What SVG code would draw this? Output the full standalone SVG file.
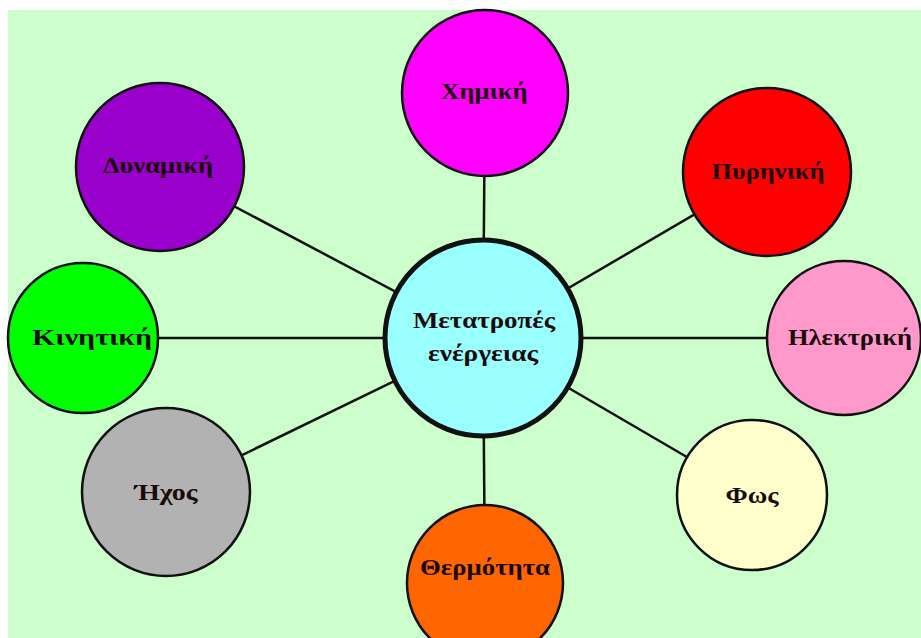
<svg xmlns="http://www.w3.org/2000/svg" width="921" height="638" viewBox="0 0 921 638">
<style>
.node circle{stroke:#111;stroke-width:2.5}
.node text{font-family:"Liberation Serif","DejaVu Serif",serif;font-weight:bold;font-size:24px;fill:#1a0a0a;text-anchor:middle;dominant-baseline:central}
.conn line{stroke:#111;stroke-width:2.5}
</style>
<rect x="0" y="0" width="921" height="638" fill="#ffffff"/>
<rect x="8" y="10" width="913" height="628" fill="#ccffcc"/>
<g class="conn">
<line x1="483" y1="338" x2="485" y2="93"/>
<line x1="483" y1="338" x2="160" y2="167"/>
<line x1="483" y1="338" x2="767" y2="172"/>
<line x1="483" y1="338" x2="83" y2="338"/>
<line x1="483" y1="338" x2="844" y2="338"/>
<line x1="483" y1="338" x2="166" y2="492"/>
<line x1="483" y1="338" x2="752" y2="495"/>
<line x1="483" y1="338" x2="485" y2="583"/>
</g>
<g id="chimiki" class="node"><circle cx="485" cy="93" r="83" fill="#ff00ff"/><text x="484" y="91" textLength="87" lengthAdjust="spacingAndGlyphs">Χημική</text></g>
<g id="dynamiki" class="node"><circle cx="160" cy="167" r="84" fill="#9900cc"/><text x="158" y="165" textLength="110" lengthAdjust="spacingAndGlyphs">Δυναμική</text></g>
<g id="pyriniki" class="node"><circle cx="767" cy="172" r="84" fill="#ff0000"/><text x="768" y="171" textLength="113" lengthAdjust="spacingAndGlyphs">Πυρηνική</text></g>
<g id="kinitiki" class="node"><circle cx="83" cy="338" r="75" fill="#00ff00"/><text x="92" y="337" textLength="120" lengthAdjust="spacingAndGlyphs">Κινητική</text></g>
<g id="ilektriki" class="node"><circle cx="844" cy="338" r="77" fill="#ff99cc"/><text x="850" y="337" textLength="124" lengthAdjust="spacingAndGlyphs">Ηλεκτρική</text></g>
<g id="ichos" class="node"><circle cx="166" cy="492" r="84" fill="#b2b2b2"/><text x="166" y="492" textLength="63" lengthAdjust="spacingAndGlyphs">Ήχος</text></g>
<g id="fos" class="node"><circle cx="752" cy="495" r="75" fill="#ffffcc"/><text x="752" y="495" textLength="53" lengthAdjust="spacingAndGlyphs">Φως</text></g>
<g id="thermotita" class="node"><circle cx="485" cy="583" r="78" fill="#ff6600"/><text x="485" y="567" textLength="130" lengthAdjust="spacingAndGlyphs">Θερμότητα</text></g>
<g id="center" class="node"><circle cx="483" cy="338" r="98" fill="#99ffff" style="stroke-width:5"/><text x="484" y="320" textLength="142" lengthAdjust="spacingAndGlyphs">Μετατροπές</text><text x="483" y="353" textLength="110" lengthAdjust="spacingAndGlyphs">ενέργειας</text></g>
</svg>
